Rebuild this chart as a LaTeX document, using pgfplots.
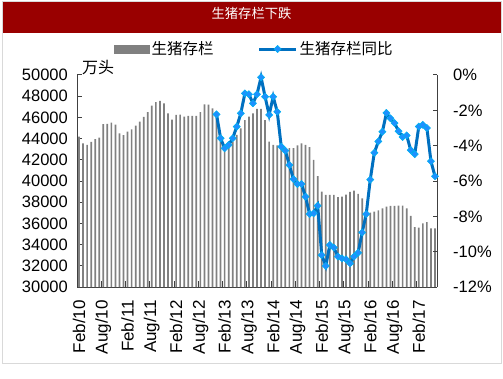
\documentclass[border=0pt]{standalone}
\usepackage{pgfplots}
\pgfplotsset{compat=1.18}
\usepackage{pgfplotstable}
\usepackage{fontspec}
\setmainfont{Liberation Sans}
\newfontfamily\cjk{Noto Sans CJK SC}
\definecolor{titlered}{RGB}{153,0,0}
\definecolor{bargray}{RGB}{128,128,128}
\definecolor{lineblue}{RGB}{0,112,192}
\definecolor{markblue}{RGB}{30,144,255}
\definecolor{markedge}{RGB}{0,176,240}
\definecolor{framegray}{RGB}{217,217,217}
\definecolor{axisgray}{RGB}{64,64,64}
\pgfplotsset{lineleg/.style={legend image code/.code={\draw[mark repeat=2,mark phase=2,##1] plot coordinates {(0bp,0bp) (18.5bp,0bp) (37bp,0bp)};}}}

\pgfplotstableread{
idx val
0 44180
1 43550
2 43400
3 43700
4 43950
5 44100
6 45370
7 45380
8 45500
9 45320
10 44490
11 44330
12 44650
13 44880
14 45220
15 45590
16 46040
17 46500
18 47120
19 47430
20 47550
21 47330
22 46380
23 45790
24 46250
25 46270
26 46070
27 46140
28 46150
29 46150
30 46500
31 47230
32 47200
33 46860
34 46000
35 44200
36 43100
37 43400
38 43710
39 44340
40 44970
41 45750
42 46070
43 46380
44 46800
45 46800
46 45750
47 43710
48 43400
49 43360
50 43110
51 42800
52 43110
53 43090
54 43360
55 43550
56 43400
57 43200
58 42000
59 40450
60 38990
61 38680
62 38680
63 38680
64 38480
65 38520
66 38720
67 38980
68 39090
69 38780
70 38370
71 37000
72 37010
73 37100
74 37230
75 37420
76 37580
77 37650
78 37660
79 37670
80 37670
81 37420
82 36720
83 35650
84 35600
85 36000
86 36130
87 35530
88 35530
}\stocktable

\pgfplotstableread{
idx val
34 -2.23
35 -3.58
36 -4.15
37 -3.96
38 -3.58
39 -2.92
40 -2.17
41 -1.04
42 -1.09
43 -1.60
44 -1.09
45 -0.13
46 -1.23
47 -2.26
48 -1.23
49 -2.08
50 -4.06
51 -4.28
52 -5.09
53 -5.89
54 -6.17
55 -6.17
56 -6.89
57 -7.87
58 -7.83
59 -7.40
60 -10.19
61 -10.81
62 -9.62
63 -9.77
64 -10.28
65 -10.38
66 -10.43
67 -10.66
68 -10.28
69 -10.06
70 -8.91
71 -7.87
72 -5.92
73 -4.40
74 -3.76
75 -3.21
76 -2.15
77 -2.45
78 -2.72
79 -3.18
80 -3.51
81 -3.42
82 -4.25
83 -4.48
84 -2.92
85 -2.82
86 -3.00
87 -4.88
88 -5.73
}\yoytable

\begin{document}
\begin{tikzpicture}
\begin{scope}[x=1bp,y=1bp]
\path (0,0) rectangle (503,378);
\fill[titlered] (2,345) rectangle (501,376);
\draw[framegray, line width=1bp] (2,15) rectangle (501,376);
\node[text=white, font=\cjk\fontsize{13.3bp}{15bp}\selectfont] at (251.5,364.5) {生猪存栏下跌};
\end{scope}

\begin{axis}[
  at={(77bp,91bp)}, anchor=south west, scale only axis,
  width=360bp, height=212bp,
  xmin=-0.5, xmax=88.5, ymin=30000, ymax=50000,
  axis x line*=bottom, axis y line*=left,
  axis line style={axisgray, line width=1bp},
  ybar, bar width=1.7bp,
  ytick={30000,32000,...,50000},
  scaled y ticks=false,
  yticklabel style={/pgf/number format/1000 sep={}, /pgf/number format/assume math mode=true,
     font=\fontsize{16.5bp}{18bp}\selectfont, anchor=east, inner sep=0pt, xshift=-9bp},
  xtick={0,6,...,84},
  xticklabels={Feb/10,Aug/10,Feb/11,Aug/11,Feb/12,Aug/12,Feb/13,Aug/13,Feb/14,Aug/14,Feb/15,Aug/15,Feb/16,Aug/16,Feb/17},
  xticklabel style={font=\fontsize{17bp}{19bp}\selectfont, inner sep=0pt, yshift=-13bp, rotate=90, anchor=east},
  major x tick style={draw=none},
  minor xtick={5.5,11.5,...,83.5},
  minor x tick style={draw=axisgray, line width=1bp},
  minor tick length=6bp,
  major tick length=4.5bp,
  ytick style={draw=axisgray, line width=1bp},
  tick align=inside,
  clip=false,
]
\addplot[fill=bargray, draw=none] table[x=idx,y=val]{\stocktable};
\end{axis}

\begin{axis}[
  at={(77bp,91bp)}, anchor=south west, scale only axis,
  width=360bp, height=212bp,
  xmin=-0.5, xmax=88.5, ymin=-12, ymax=0,
  axis x line=none, axis y line*=right,
  axis line style={axisgray, line width=1bp},
  ytick={-12,-10,...,0},
  yticklabel={\pgfmathprintnumber[assume math mode=true]{\tick}\%},
  yticklabel style={font=\fontsize{16.5bp}{18bp}\selectfont, anchor=west, inner sep=0pt, xshift=16bp},
  major tick length=4.5bp,
  ytick style={draw=axisgray, line width=1bp},
  tick align=inside,
  clip=false,
  legend columns=2,
  legend style={at={(0.493,1.1226)}, anchor=center, draw=none, fill=none,
    font=\cjk\fontsize{15.5bp}{17bp}\selectfont,
    /tikz/every even column/.append style={column sep=42bp},
    nodes={inner sep=2bp}},
  legend cell align=left,
]
\addlegendimage{legend image code/.code={\fill[bargray] (0bp,-4bp) rectangle (35bp,4bp);}}
\addlegendentry{生猪存栏}
\addplot[color=lineblue, line width=3bp, mark=square*, mark size=2.5bp,
  mark options={rotate=45, fill=markblue, draw=markedge, line width=0.6bp},
  lineleg]
  table[x=idx,y=val]{\yoytable};
\addlegendentry{生猪存栏同比}
\end{axis}

\begin{scope}[x=1bp,y=1bp]
\node[font=\cjk\fontsize{16bp}{18bp}\selectfont, anchor=west, inner sep=0pt] at (82,310) {万头};
\end{scope}
\end{tikzpicture}
\end{document}
